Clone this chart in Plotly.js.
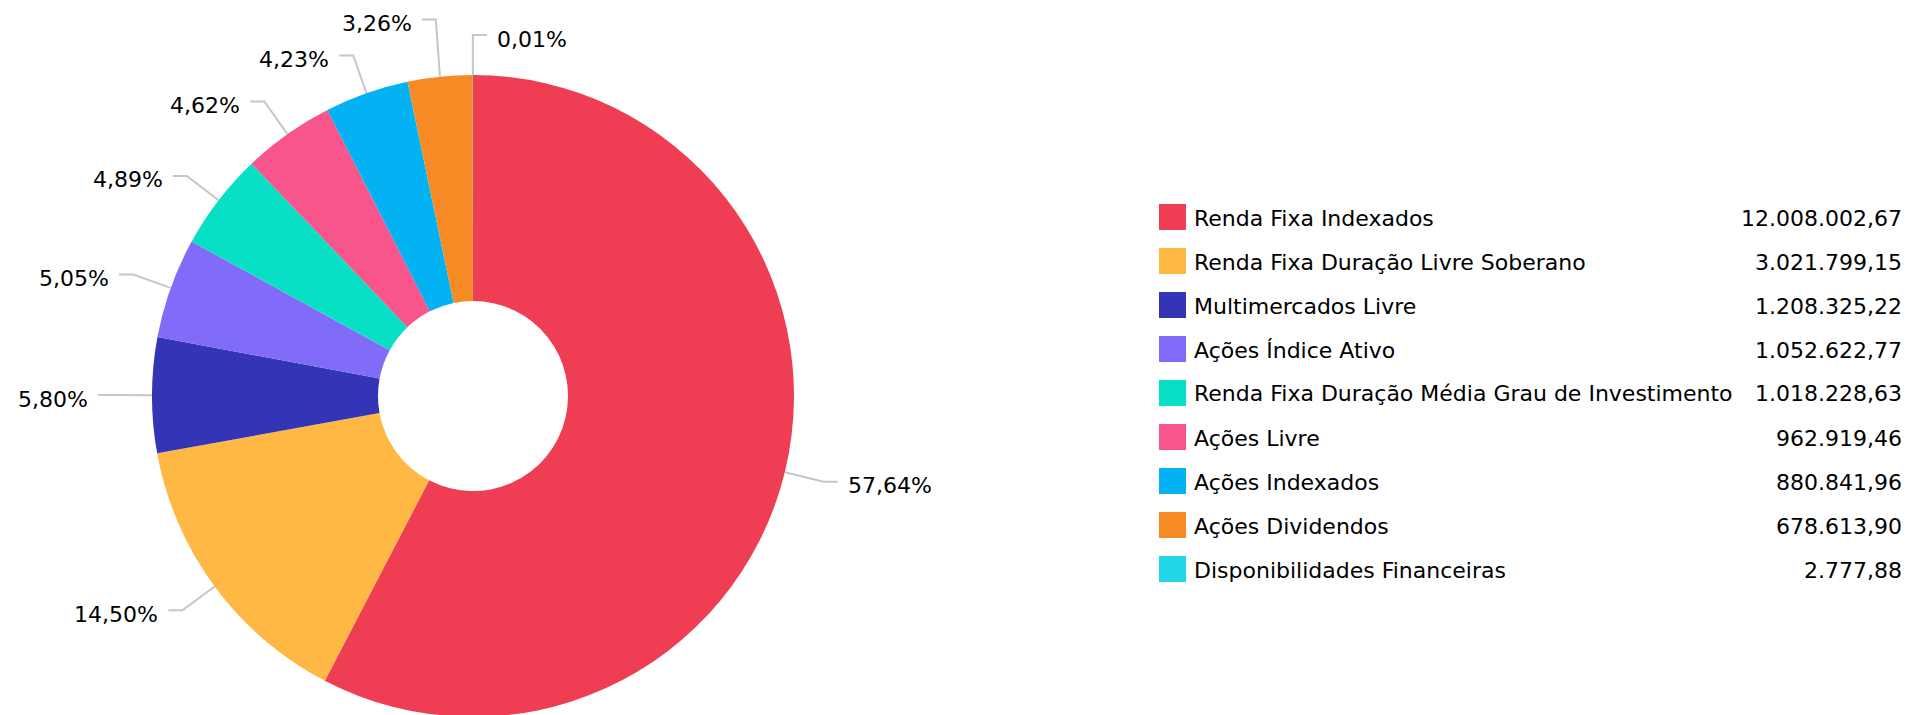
<!DOCTYPE html>
<html><head><meta charset="utf-8">
<script src="https://cdn.plot.ly/plotly-3.0.1.min.js"></script>
<style>html,body{margin:0;padding:0;overflow:hidden;background:#fff}#chart{width:1912px;height:760px}</style>
</head><body><div id="chart"></div>
<script>
const categories = ["Renda Fixa Indexados", "Renda Fixa Duração Livre Soberano", "Multimercados Livre", "Ações Índice Ativo", "Renda Fixa Duração Média Grau de Investimento", "Ações Livre", "Ações Indexados", "Ações Dividendos", "Disponibilidades Financeiras"];
const values = [12008002.67, 3021799.15, 1208325.22, 1052622.77, 1018228.63, 962919.46, 880841.96, 678613.90, 2777.88];
const sliceColors = ["#EF3E54", "#FFB843", "#3434B6", "#806CF9", "#08E0C6", "#F7558C", "#03B2F2", "#F68B25", "#24D7E6"];

const W = 1912, H = 760;
const CX = 473, CY = 396, R = 321;
const FONT = "DejaVu Sans, Verdana, sans-serif";
const px = x => x / W;
const py = y => 1 - y / H;

function fmtNum(v) {
  const parts = v.toFixed(2).split('.');
  return parts[0].replace(/\B(?=(\d{3})+(?!\d))/g, '.') + ',' + parts[1];
}

const total = values.reduce((a, b) => a + b, 0);
const shapes = [];
const annotations = [];

// slice labels with leader lines
let cum = 0;
const labels = values.map((v, i) => {
  const mid = (cum + v / 2) / total;
  cum += v;
  const th = mid * 2 * Math.PI;
  const s = Math.sin(th), c = Math.cos(th);
  return {
    i: i,
    ax: CX + R * s, ay: CY - R * c,
    ex: CX + (R + 40) * s, ey: CY - (R + 40) * c,
    side: s > -0.005 ? 1 : -1,
    text: (v / total * 100).toFixed(2).replace('.', ',') + '%'
  };
});
const GAP = 36;
const left = labels.filter(l => l.side < 0).sort((a, b) => b.ey - a.ey);
for (let k = 1; k < left.length; k++) {
  if (left[k].ey > left[k - 1].ey - GAP) left[k].ey = left[k - 1].ey - GAP;
}
const right = labels.filter(l => l.side > 0).sort((a, b) => a.ey - b.ey);
for (let k = 1; k < right.length; k++) {
  if (right[k].ey < right[k - 1].ey + GAP) right[k].ey = right[k - 1].ey + GAP;
}
labels.forEach(l => {
  const hx = l.ex + l.side * 14;
  shapes.push({type: 'path', xref: 'paper', yref: 'paper',
    path: `M ${px(l.ax)},${py(l.ay)} L ${px(l.ex)},${py(l.ey)} L ${px(hx)},${py(l.ey)}`,
    line: {color: '#c6c6c6', width: 2}});
  annotations.push({xref: 'paper', yref: 'paper', x: px(hx + l.side * 8), y: py(l.ey + 4),
    xanchor: l.side > 0 ? 'left' : 'right', yanchor: 'middle', showarrow: false,
    text: l.text, font: {family: FONT, size: 22, color: '#000'}});
});

// legend
categories.forEach((cat, i) => {
  const yc = 217 + 44 * i;
  shapes.push({type: 'rect', xref: 'paper', yref: 'paper',
    x0: px(1159), x1: px(1186), y0: py(yc - 13), y1: py(yc + 13),
    fillcolor: sliceColors[i], line: {width: 0}});
  annotations.push({xref: 'paper', yref: 'paper', x: px(1192), y: py(yc + 1),
    xanchor: 'left', yanchor: 'middle', showarrow: false,
    text: cat, font: {family: FONT, size: 22, color: '#000'}});
  annotations.push({xref: 'paper', yref: 'paper', x: px(1904), y: py(yc + 1),
    xanchor: 'right', yanchor: 'middle', showarrow: false,
    text: fmtNum(values[i]), font: {family: FONT, size: 22, color: '#000'}});
});

const trace = {
  type: 'pie', labels: categories, values: values, sort: false,
  direction: 'clockwise', rotation: 0, hole: 0.296,
  marker: {colors: sliceColors, line: {width: 0}},
  textinfo: 'none', hoverinfo: 'label+value+percent', showlegend: false,
  domain: {x: [(CX - R) / W, (CX + R) / W], y: [1 - (CY + R) / H, 1 - (CY - R) / H]}
};

const layout = {
  width: W, height: H, margin: {l: 0, r: 0, t: 0, b: 0},
  paper_bgcolor: '#fff', showlegend: false,
  font: {family: FONT},
  shapes: shapes, annotations: annotations
};
Plotly.newPlot('chart', [trace], layout, {displayModeBar: false, staticPlot: true});
</script>
</body></html>
